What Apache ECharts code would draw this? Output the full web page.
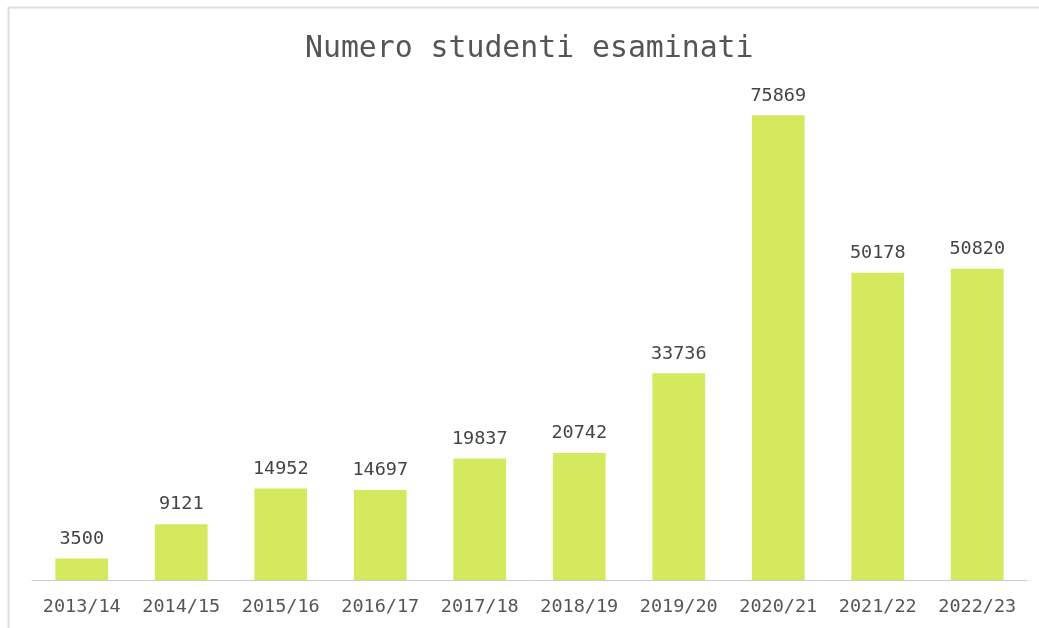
<!DOCTYPE html>
<html>
<head>
<meta charset="utf-8">
<title>Numero studenti esaminati</title>
<script src="https://cdn.jsdelivr.net/npm/echarts@6/dist/echarts.min.js"></script>
<style>
  html, body { margin: 0; padding: 0; background: #ffffff; }
  #chart { width: 1039px; height: 628px; }
</style>
</head>
<body>
<div id="chart"></div>
<script>
// School years and number of students examined
const anni = ['2013/14', '2014/15', '2015/16', '2016/17', '2017/18', '2018/19', '2019/20', '2020/21', '2021/22', '2022/23'];
const studenti = [3500, 9121, 14952, 14697, 19837, 20742, 33736, 75869, 50178, 50820];

const FONT = '"DejaVu Sans Mono", "Liberation Mono", monospace';

const chart = echarts.init(document.getElementById('chart'), null, { renderer: 'canvas' });

chart.setOption({
  backgroundColor: '#ffffff',
  animation: false,
  title: {
    text: 'Numero studenti esaminati',
    left: 300,
    top: 29,
    textStyle: { fontFamily: FONT, fontSize: 29.8, fontWeight: 'normal', color: '#555555' }
  },
  grid: { left: 32, right: 12, top: 90, bottom: 48, containLabel: false },
  xAxis: {
    type: 'category',
    data: anni,
    axisLine: { lineStyle: { color: '#cccccc', width: 1 } },
    axisTick: { show: false },
    axisLabel: { fontFamily: FONT, fontSize: 18.5, color: '#555555', margin: 18, interval: 0 }
  },
  yAxis: {
    type: 'value',
    min: 0,
    max: 80000,
    show: false,
    splitLine: { show: false }
  },
  series: [{
    type: 'bar',
    data: studenti,
    barWidth: '53%',
    itemStyle: { color: '#d5e95f' },
    label: {
      show: true,
      position: 'top',
      distance: 10,
      fontFamily: FONT,
      fontSize: 18.5,
      color: '#444444'
    }
  }],
  graphic: [
    { type: 'line', shape: { x1: 8.5, y1: 7, x2: 8.5, y2: 628 }, style: { stroke: '#dddddd', lineWidth: 2 }, silent: true },
    { type: 'line', shape: { x1: 8, y1: 7.5, x2: 1039, y2: 7.5 }, style: { stroke: '#dddddd', lineWidth: 2 }, silent: true }
  ]
});
</script>
</body>
</html>
